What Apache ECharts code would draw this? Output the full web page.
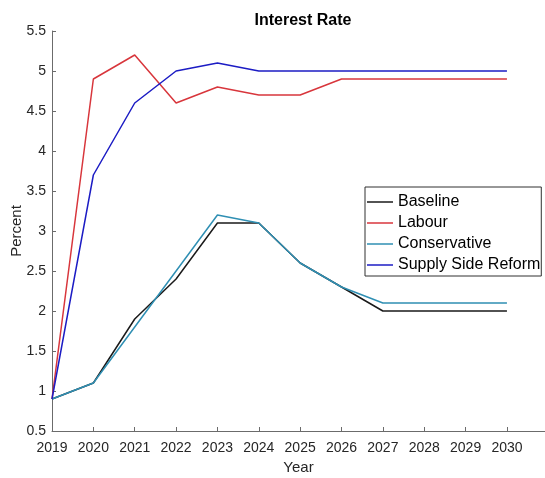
<!DOCTYPE html>
<html>
<head>
<meta charset="utf-8">
<title>Interest Rate</title>
<script src="https://cdn.jsdelivr.net/npm/echarts@6/dist/echarts.min.js"></script>
<style>
  html, body { margin: 0; padding: 0; background: #fff; }
  #chart { width: 545px; height: 478px; }
</style>
</head>
<body>
<div id="chart"></div>
<script>
// Policy-rate paths by scenario, 2019-2030 (percent)
const years = [2019, 2020, 2021, 2022, 2023, 2024, 2025, 2026, 2027, 2028, 2029, 2030];
const baseline = [0.9, 1.1, 1.9, 2.4, 3.1, 3.1, 2.6, 2.3, 2.0, 2.0, 2.0, 2.0];
const labour = [0.9, 4.9, 5.2, 4.6, 4.8, 4.7, 4.7, 4.9, 4.9, 4.9, 4.9, 4.9];
const conservative = [0.9, 1.1, 1.8, 2.5, 3.2, 3.1, 2.6, 2.3, 2.1, 2.1, 2.1, 2.1];
const supplySide = [0.9, 3.7, 4.6, 5.0, 5.1, 5.0, 5.0, 5.0, 5.0, 5.0, 5.0, 5.0];

const seriesNames = ['Baseline', 'Labour', 'Conservative', 'Supply Side Reform'];
const seriesValues = [baseline, labour, conservative, supplySide];
const seriesColors = ['#1a1a1a', '#d8363c', '#2f8fb3', '#1c1cc4'];

const FONT = '"Liberation Sans", Arial, Helvetica, sans-serif';
const AXIS_GRAY = '#6b6b6b';
const TEXT_GRAY = '#262626';

const chart = echarts.init(document.getElementById('chart'), null, { renderer: 'canvas' });

const series = seriesNames.map((name, i) => ({
  name: name,
  type: 'line',
  symbol: 'none',
  showSymbol: false,
  animation: false,
  lineStyle: { color: seriesColors[i], width: 1.5 },
  itemStyle: { color: seriesColors[i] },
  data: years.map((y, k) => [y, seriesValues[i][k]]),
  z: 2 + i
}));

chart.setOption({
  backgroundColor: '#fff',
  animation: false,
  textStyle: { fontFamily: FONT },
  title: {
    text: 'Interest Rate',
    left: 298,
    top: 8,
    textAlign: 'center',
    textStyle: { fontFamily: FONT, fontSize: 16, fontWeight: 'bold', color: '#000' }
  },
  grid: {
    left: 52, right: 0, top: 31, bottom: 47,
    containLabel: false,
    outerBoundsMode: 'none'
  },
  legend: {
    orient: 'vertical',
    left: 365,
    top: 187,
    padding: [7, 1, 3, 2],
    itemGap: 5,
    itemWidth: 26,
    itemHeight: 1.5,
    icon: 'rect',
    backgroundColor: '#fff',
    borderColor: '#303030',
    borderWidth: 1,
    data: seriesNames,
    textStyle: { fontFamily: FONT, fontSize: 16, color: '#000', lineHeight: 16 }
  },
  xAxis: {
    type: 'value',
    min: 2019,
    max: 2030.92,
    interval: 1,
    name: 'Year',
    nameLocation: 'middle',
    nameGap: 29,
    nameMoveOverlap: false,
    nameTextStyle: { fontFamily: FONT, fontSize: 15, color: TEXT_GRAY },
    splitLine: { show: false },
    axisLine: { lineStyle: { color: AXIS_GRAY, width: 1 } },
    axisTick: {
      inside: true, length: 4,
      lineStyle: { color: AXIS_GRAY }
    },
    axisLabel: {
      fontFamily: FONT, fontSize: 14, color: TEXT_GRAY, margin: 10,
      showMaxLabel: false,
      formatter: v => (Number.isInteger(v) && v <= 2030 ? String(v) : '')
    }
  },
  yAxis: {
    type: 'value',
    min: 0.5,
    max: 5.5,
    interval: 0.5,
    name: 'Percent',
    nameLocation: 'middle',
    nameRotate: 90,
    nameGap: 28,
    nameMoveOverlap: false,
    nameTextStyle: { fontFamily: FONT, fontSize: 15, color: TEXT_GRAY },
    splitLine: { show: false },
    axisLine: { show: true, lineStyle: { color: AXIS_GRAY, width: 1 } },
    axisTick: { show: true, inside: true, length: 4, lineStyle: { color: AXIS_GRAY } },
    axisLabel: { fontFamily: FONT, fontSize: 14, color: TEXT_GRAY, margin: 6 }
  },
  series: series
});
</script>
</body>
</html>
